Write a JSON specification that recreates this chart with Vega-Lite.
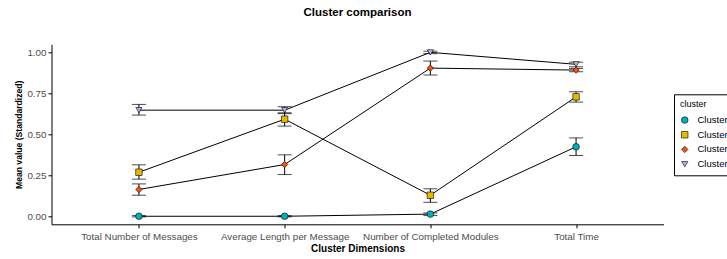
{
  "$schema": "https://vega.github.io/schema/vega-lite/v6.json",
  "autosize": {"type": "none"},
  "width": 612,
  "height": 180,
  "padding": {"left": 51.5, "top": 44.3, "right": 63.5, "bottom": 34.7},
  "background": "white",
  "title": {"text": "Cluster comparison", "fontSize": 11.5, "font": "Liberation Sans", "fontWeight": "bold", "color": "black", "anchor": "middle", "frame": "group", "offset": 26},
  "config": {
    "view": {"stroke": null},
    "font": "Liberation Sans",
    "axis": {"grid": false, "domainColor": "black", "domainWidth": 1, "tickColor": "black", "tickSize": 3.5, "labelFontSize": 9.8, "labelColor": "#4D4D4D", "titleFontSize": 10, "titleFontWeight": "bold", "titleColor": "black", "labelPadding": 2},
    "legend": {
      "orient": "none", "legendX": 622.5, "legendY": 50, "strokeColor": "black", "strokeWidth": 1, "fillColor": "white",
      "padding": 6, "titleFontSize": 9, "titleFontWeight": "normal", "titleColor": "black", "titlePadding": 6,
      "labelFontSize": 9.5, "labelColor": "black", "labelOffset": 8, "rowPadding": 3.7, "symbolStrokeWidth": 0.6
    }
  },
  "data": {"values": [
    {"dim": "Total Number of Messages", "cluster": "Cluster 1", "mean": 0.0, "lo": -0.004, "hi": 0.004},
    {"dim": "Average Length per Message", "cluster": "Cluster 1", "mean": 0.0, "lo": -0.004, "hi": 0.004},
    {"dim": "Number of Completed Modules", "cluster": "Cluster 1", "mean": 0.013, "lo": 0.005, "hi": 0.02},
    {"dim": "Total Time", "cluster": "Cluster 1", "mean": 0.423, "lo": 0.37, "hi": 0.477},
    {"dim": "Total Number of Messages", "cluster": "Cluster 2", "mean": 0.268, "lo": 0.226, "hi": 0.313},
    {"dim": "Average Length per Message", "cluster": "Cluster 2", "mean": 0.591, "lo": 0.549, "hi": 0.63},
    {"dim": "Number of Completed Modules", "cluster": "Cluster 2", "mean": 0.128, "lo": 0.085, "hi": 0.167},
    {"dim": "Total Time", "cluster": "Cluster 2", "mean": 0.727, "lo": 0.695, "hi": 0.758},
    {"dim": "Total Number of Messages", "cluster": "Cluster 3", "mean": 0.163, "lo": 0.128, "hi": 0.197},
    {"dim": "Average Length per Message", "cluster": "Cluster 3", "mean": 0.315, "lo": 0.254, "hi": 0.374},
    {"dim": "Number of Completed Modules", "cluster": "Cluster 3", "mean": 0.902, "lo": 0.86, "hi": 0.945},
    {"dim": "Total Time", "cluster": "Cluster 3", "mean": 0.89, "lo": 0.88, "hi": 0.9},
    {"dim": "Total Number of Messages", "cluster": "Cluster 4", "mean": 0.646, "lo": 0.616, "hi": 0.681},
    {"dim": "Average Length per Message", "cluster": "Cluster 4", "mean": 0.646, "lo": 0.625, "hi": 0.667},
    {"dim": "Number of Completed Modules", "cluster": "Cluster 4", "mean": 0.998, "lo": 0.99, "hi": 1.005},
    {"dim": "Total Time", "cluster": "Cluster 4", "mean": 0.925, "lo": 0.91, "hi": 0.938}
  ]},
  "encoding": {
    "x": {"field": "dim", "type": "nominal", "sort": ["Total Number of Messages", "Average Length per Message", "Number of Completed Modules", "Total Time"], "scale": {"type": "point", "padding": 0.6}, "title": "Cluster Dimensions", "axis": {"labelAngle": 0, "labelPadding": 4, "titlePadding": 2}}
  },
  "layer": [
    {
      "mark": {"type": "line", "color": "black", "strokeWidth": 1},
      "encoding": {
        "y": {"field": "mean", "type": "quantitative", "scale": {"domain": [-0.049, 1.047], "nice": false, "zero": false}, "title": "Mean value (Standardized)", "axis": {"values": [0, 0.25, 0.5, 0.75, 1], "format": ".2f", "titlePadding": 3, "titleFontSize": 8.6}},
        "detail": {"field": "cluster"}
      }
    },
    {
      "mark": {"type": "errorbar", "color": "black", "thickness": 1, "ticks": {"size": 14, "color": "black"}},
      "encoding": {
        "y": {"field": "lo", "type": "quantitative", "title": "Mean value (Standardized)"},
        "y2": {"field": "hi"},
        "detail": {"field": "cluster"}
      }
    },
    {
      "mark": {"type": "point", "filled": true, "strokeWidth": 0.6, "opacity": 1},
      "encoding": {
        "y": {"field": "mean", "type": "quantitative", "title": "Mean value (Standardized)"},
        "stroke": {"value": "black"},
        "fill": {"field": "cluster", "type": "nominal", "scale": {"range": ["#00AFBB", "#E7B800", "#FC4E07", "#B8AEE8"]}, "title": "cluster"},
        "shape": {"field": "cluster", "type": "nominal", "scale": {"range": ["circle", "square", "diamond", "triangle-down"]}, "title": "cluster"},
        "size": {"field": "cluster", "type": "nominal", "scale": {"range": [44, 38, 56, 60]}, "title": "cluster"}
      }
    }
  ]
}
